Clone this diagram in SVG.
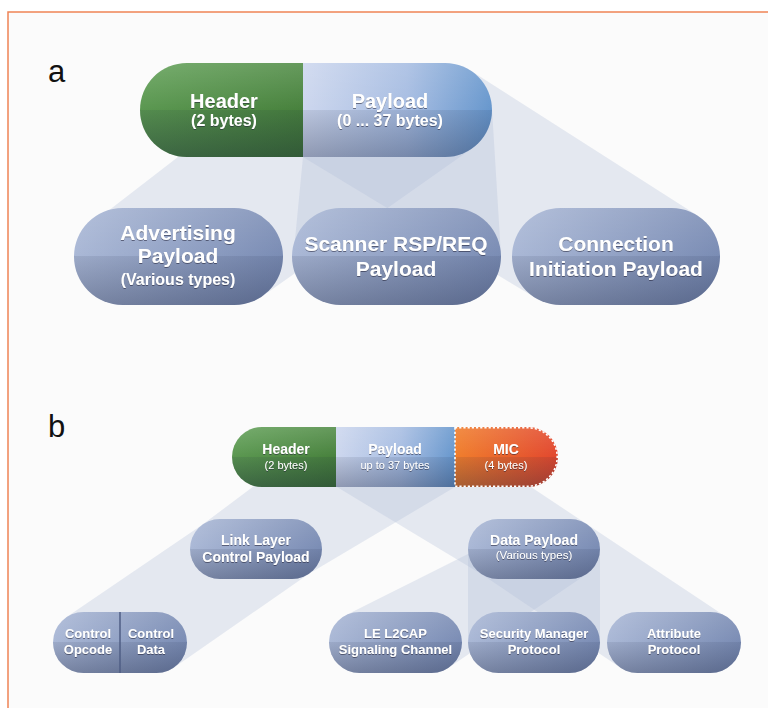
<svg xmlns="http://www.w3.org/2000/svg" width="768" height="708" viewBox="0 0 768 708">
<defs>
<style>
.pill{fill:url(#blu)}
.shade{fill:url(#shade)}
.w{fill:#aebcd8;fill-opacity:0.3}
.t{font-family:"Liberation Sans",Arial,Helvetica,sans-serif;font-weight:bold;fill:#ffffff;text-anchor:middle;filter:url(#ts)}
.tn{font-family:"Liberation Sans",Arial,Helvetica,sans-serif;font-weight:normal;fill:#ffffff;text-anchor:middle;filter:url(#ts)}
.lab{font-family:"Liberation Sans",Arial,Helvetica,sans-serif;font-size:31px;fill:#111111}
</style>
<linearGradient id="blu" x1="0" y1="0" x2="1" y2="0">
<stop offset="0" stop-color="#aab8d6"/>
<stop offset="1" stop-color="#7a8cb4"/>
</linearGradient>
<linearGradient id="shade" x1="0" y1="0" x2="0" y2="1">
<stop offset="0" stop-color="#ffffff" stop-opacity="0.12"/>
<stop offset="0.5" stop-color="#ffffff" stop-opacity="0"/>
<stop offset="0.5" stop-color="#1a2340" stop-opacity="0.1"/>
<stop offset="1" stop-color="#1a2340" stop-opacity="0.34"/>
</linearGradient>
<linearGradient id="green" x1="0" y1="0" x2="1" y2="1">
<stop offset="0" stop-color="#64a25a"/>
<stop offset="1" stop-color="#3e7633"/>
</linearGradient>
<linearGradient id="payA" x1="0" y1="0" x2="1" y2="0">
<stop offset="0" stop-color="#cdd7ee"/>
<stop offset="0.55" stop-color="#a7bde2"/>
<stop offset="1" stop-color="#6797cd"/>
</linearGradient>
<linearGradient id="mic" x1="0" y1="0" x2="1" y2="0">
<stop offset="0" stop-color="#f07e2c"/>
<stop offset="1" stop-color="#e2472e"/>
</linearGradient>
<filter id="ts" x="-10%" y="-30%" width="120%" height="160%">
<feDropShadow dx="0" dy="1" stdDeviation="0.7" flood-color="#1c2438" flood-opacity="0.55"/>
</filter>
<clipPath id="cpA"><rect x="140" y="63" width="352" height="94" rx="47"/></clipPath>
<clipPath id="cpB"><rect x="232" y="427" width="326" height="60" rx="30"/></clipPath>
</defs>

<rect x="0" y="0" width="768" height="708" fill="#ffffff"/>
<g id="frame">
<rect x="8" y="12" width="762" height="700" fill="#fbfbfb" stroke="#ef8455" stroke-width="1.5"/>
</g>

<text class="lab" x="48" y="82">a</text>
<text class="lab" x="48" y="437">b</text>

<g id="connectors">
<!-- panel a -->
<polygon id="w-adv" class="w" points="200,140 445,110 471.6,148.7 262,296.5 234.5,256.5 122.5,256.5 86,228"/>
<polygon id="w-scan" class="w" points="303,130 445,110 491.9,107.6 500.9,254 452.5,256.5 340.5,256.5 294,250 303,157"/>
<polygon id="w-conn" class="w" points="303,157 445,110 470.5,70.5 697.8,215.8 671.5,256.5 560.5,256.5 535.3,297.7"/>
<!-- panel b -->
<polygon id="w-ll" class="w" points="262,470 455,470 455,487 307.3,574.8 292,549 220,549 202,525 262,480"/>
<polygon id="w-dp" class="w" points="337,487 337,470 528,470 528,485 586.6,524 570,549 498,549 482.4,574.8"/>
<polygon id="w-ctrl" class="w" points="203,524.3 220,549 292,549 309,573.8 173.7,667.7 156.5,642.5 83.5,642.5 66.3,617.3"/>
<polygon id="w-le" class="w" points="470,553 498,549 570,549 586.8,573.9 448.6,667.8 431.5,642.5 359.5,642.5 345.8,615.2"/>
<rect id="w-sm" class="w" x="468" y="549" width="132" height="94"/>
<polygon id="w-att" class="w" points="481.3,573.9 498,549 570,549 586.6,524 727.1,617.5 710.5,642.5 637.5,642.5 620.5,667.8"/>
</g>

<!-- Panel a -->
<g id="packet-a">
<g clip-path="url(#cpA)">
<rect x="140" y="63" width="163" height="94" fill="url(#green)"/>
<rect x="303" y="63" width="189" height="94" fill="url(#payA)"/>
<rect x="140" y="63" width="352" height="94" class="shade"/>
</g>
<text class="t" x="224" y="108" font-size="20">Header</text>
<text class="t" x="224" y="126" font-size="16">(2 bytes)</text>
<text class="t" x="390" y="108" font-size="20">Payload</text>
<text class="t" x="390" y="126" font-size="16">(0 ... 37 bytes)</text>
</g>

<g id="advertising">
<rect class="pill" x="74" y="208" width="209" height="97" rx="48.5"/>
<rect class="shade" x="74" y="208" width="209" height="97" rx="48.5"/>
<text class="t" x="178" y="240" font-size="21">Advertising</text>
<text class="t" x="178" y="263" font-size="21">Payload</text>
<text class="t" x="178" y="285" font-size="16">(Various types)</text>
</g>

<g id="scanner">
<rect class="pill" x="292" y="208" width="209" height="97" rx="48.5"/>
<rect class="shade" x="292" y="208" width="209" height="97" rx="48.5"/>
<text class="t" x="396" y="251" font-size="21">Scanner RSP/REQ</text>
<text class="t" x="396" y="276" font-size="21">Payload</text>
</g>

<g id="connection">
<rect class="pill" x="512" y="208" width="208" height="97" rx="48.5"/>
<rect class="shade" x="512" y="208" width="208" height="97" rx="48.5"/>
<text class="t" x="616" y="251" font-size="21">Connection</text>
<text class="t" x="616" y="276" font-size="21">Initiation Payload</text>
</g>

<!-- Panel b -->
<g id="packet-b">
<g clip-path="url(#cpB)">
<rect x="232" y="427" width="104" height="60" fill="url(#green)"/>
<rect x="336" y="427" width="119" height="60" fill="url(#payA)"/>
<rect x="455" y="427" width="103" height="60" fill="url(#mic)"/>
<rect x="232" y="427" width="326" height="60" class="shade"/>
</g>
<path d="M455,427.8 H528 A29.2,29.2 0 0 1 528,486.2 H455 Z" fill="none" stroke="#ffffff" stroke-width="1.6" stroke-dasharray="2.2 2"/>
<text class="t" x="286" y="454" font-size="14">Header</text>
<text class="tn" x="286" y="469" font-size="11">(2 bytes)</text>
<text class="t" x="395" y="454" font-size="14">Payload</text>
<text class="tn" x="395" y="469" font-size="11">up to 37 bytes</text>
<text class="t" x="506" y="454" font-size="14">MIC</text>
<text class="tn" x="506" y="469" font-size="11">(4 bytes)</text>
</g>

<g id="link-layer">
<rect class="pill" x="190" y="519" width="132" height="60" rx="30"/>
<rect class="shade" x="190" y="519" width="132" height="60" rx="30"/>
<text class="t" x="256" y="545" font-size="14">Link Layer</text>
<text class="t" x="256" y="562" font-size="14">Control Payload</text>
</g>

<g id="data-payload">
<rect class="pill" x="468" y="519" width="132" height="60" rx="30"/>
<rect class="shade" x="468" y="519" width="132" height="60" rx="30"/>
<text class="t" x="534" y="545" font-size="14">Data Payload</text>
<text class="tn" x="534" y="559" font-size="11.5">(Various types)</text>
</g>

<g id="control">
<rect class="pill" x="53" y="612" width="134" height="61" rx="30.5"/>
<rect class="shade" x="53" y="612" width="134" height="61" rx="30.5"/>
<line x1="120" y1="612" x2="120" y2="673" stroke="#4f5e84" stroke-width="1.5"/>
<text class="t" x="88" y="638" font-size="13">Control</text>
<text class="t" x="88" y="654" font-size="13">Opcode</text>
<text class="t" x="151" y="638" font-size="13">Control</text>
<text class="t" x="151" y="654" font-size="13">Data</text>
</g>

<g id="le-l2cap">
<rect class="pill" x="329" y="612" width="133" height="61" rx="30.5"/>
<rect class="shade" x="329" y="612" width="133" height="61" rx="30.5"/>
<text class="t" x="395.5" y="638" font-size="13">LE L2CAP</text>
<text class="t" x="395.5" y="654" font-size="13">Signaling Channel</text>
</g>

<g id="security-manager">
<rect class="pill" x="468" y="612" width="132" height="61" rx="30.5"/>
<rect class="shade" x="468" y="612" width="132" height="61" rx="30.5"/>
<text class="t" x="534" y="638" font-size="13">Security Manager</text>
<text class="t" x="534" y="654" font-size="13">Protocol</text>
</g>

<g id="attribute">
<rect class="pill" x="607" y="612" width="134" height="61" rx="30.5"/>
<rect class="shade" x="607" y="612" width="134" height="61" rx="30.5"/>
<text class="t" x="674" y="638" font-size="13">Attribute</text>
<text class="t" x="674" y="654" font-size="13">Protocol</text>
</g>
</svg>
